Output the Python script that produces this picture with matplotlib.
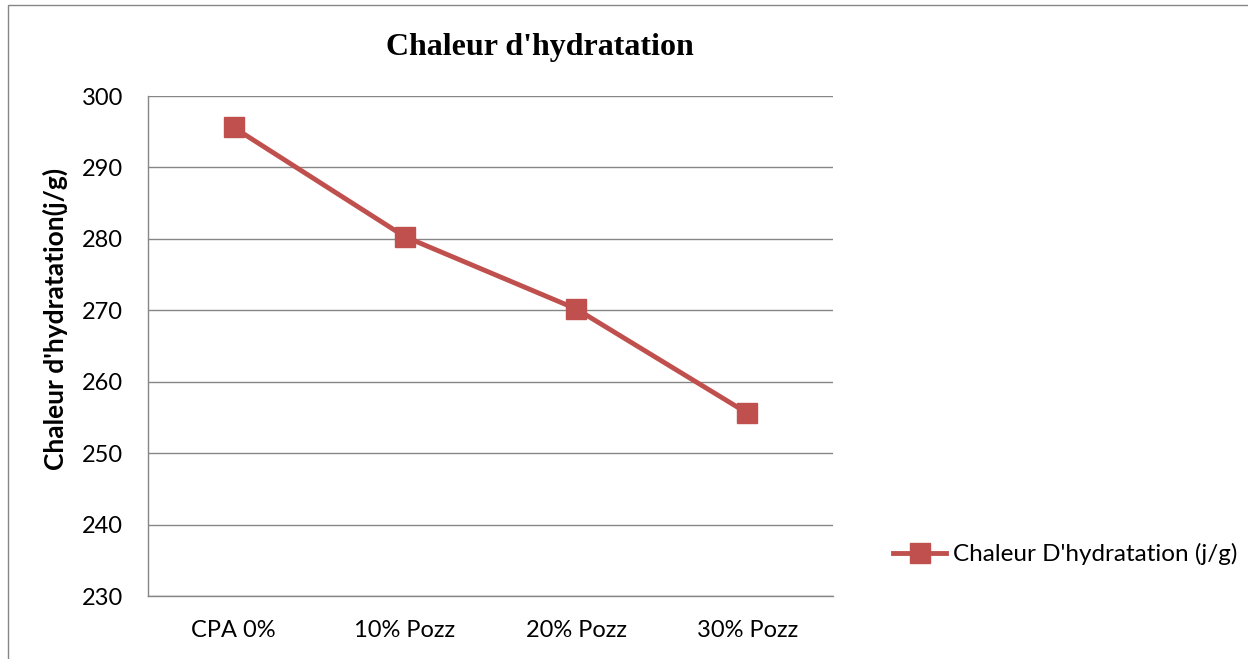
import matplotlib
matplotlib.use("Agg")
import matplotlib.pyplot as plt
from matplotlib.patches import Rectangle

categories = ["CPA 0%", "10% Pozz", "20% Pozz", "30% Pozz"]
values = [295.6, 280.3, 270.2, 255.6]
yticks = [230, 240, 250, 260, 270, 280, 290, 300]
series_name = "Chaleur D'hydratation (j/g)"
title = "Chaleur d'hydratation"
ylabel = "Chaleur d'hydratation(j/g)"

W, H = 1248, 659
fig = plt.figure(figsize=(W / 100, H / 100), dpi=100)
sans = ["Lato", "DejaVu Sans"]

# outer chart frame
fig.patches.append(Rectangle((8 / W, -0.05), 1.2, 1 - 5 / H + 0.05, transform=fig.transFigure,
                             fill=False, edgecolor="#868686", linewidth=1.0))

ax = fig.add_axes([148 / W, (H - 596) / H, (833 - 148) / W, (596 - 96) / H])
x = list(range(len(categories)))
line, = ax.plot(x, values, color="#C0504D", linewidth=3.5, marker="s", markersize=14,
                markerfacecolor="#C0504D", markeredgecolor="#C0504D", label=series_name)

ax.set_xlim(-0.5, len(categories) - 0.5)
ax.set_ylim(230, 300)
ax.set_yticks(yticks)
ax.set_xticks(x)
ax.set_xticklabels(categories, fontfamily=sans, fontsize=17)
ax.set_yticklabels([str(v) for v in yticks], fontfamily=sans, fontsize=17)
ax.tick_params(length=0)
ax.tick_params(axis="y", pad=18)
ax.tick_params(axis="x", pad=17)
ax.grid(axis="y", color="#868686", linewidth=1.0)
ax.set_axisbelow(True)
for s in ["top", "right"]:
    ax.spines[s].set_visible(False)
for s in ["left", "bottom"]:
    ax.spines[s].set_color("#868686")
    ax.spines[s].set_linewidth(1.0)

ax.set_ylabel(ylabel, fontfamily=sans, fontsize=19, fontweight="bold")
ax.yaxis.set_label_coords((68 - 148) / 685, (596 - 319) / 500)

fig.text(540 / W, 1 - 48 / H, title, ha="center", va="center",
         fontfamily=["Liberation Serif"], fontsize=23, fontweight="bold")

fig.legend(handles=[line], labels=[series_name], loc="center left",
           bbox_to_anchor=(893 / W, 1 - 554 / H), frameon=False,
           prop={"family": sans, "size": 17.5}, handlelength=2.2, handletextpad=0.25,
           borderaxespad=0, borderpad=0, markerscale=1.0)

fig.savefig("out.png", dpi=100)
